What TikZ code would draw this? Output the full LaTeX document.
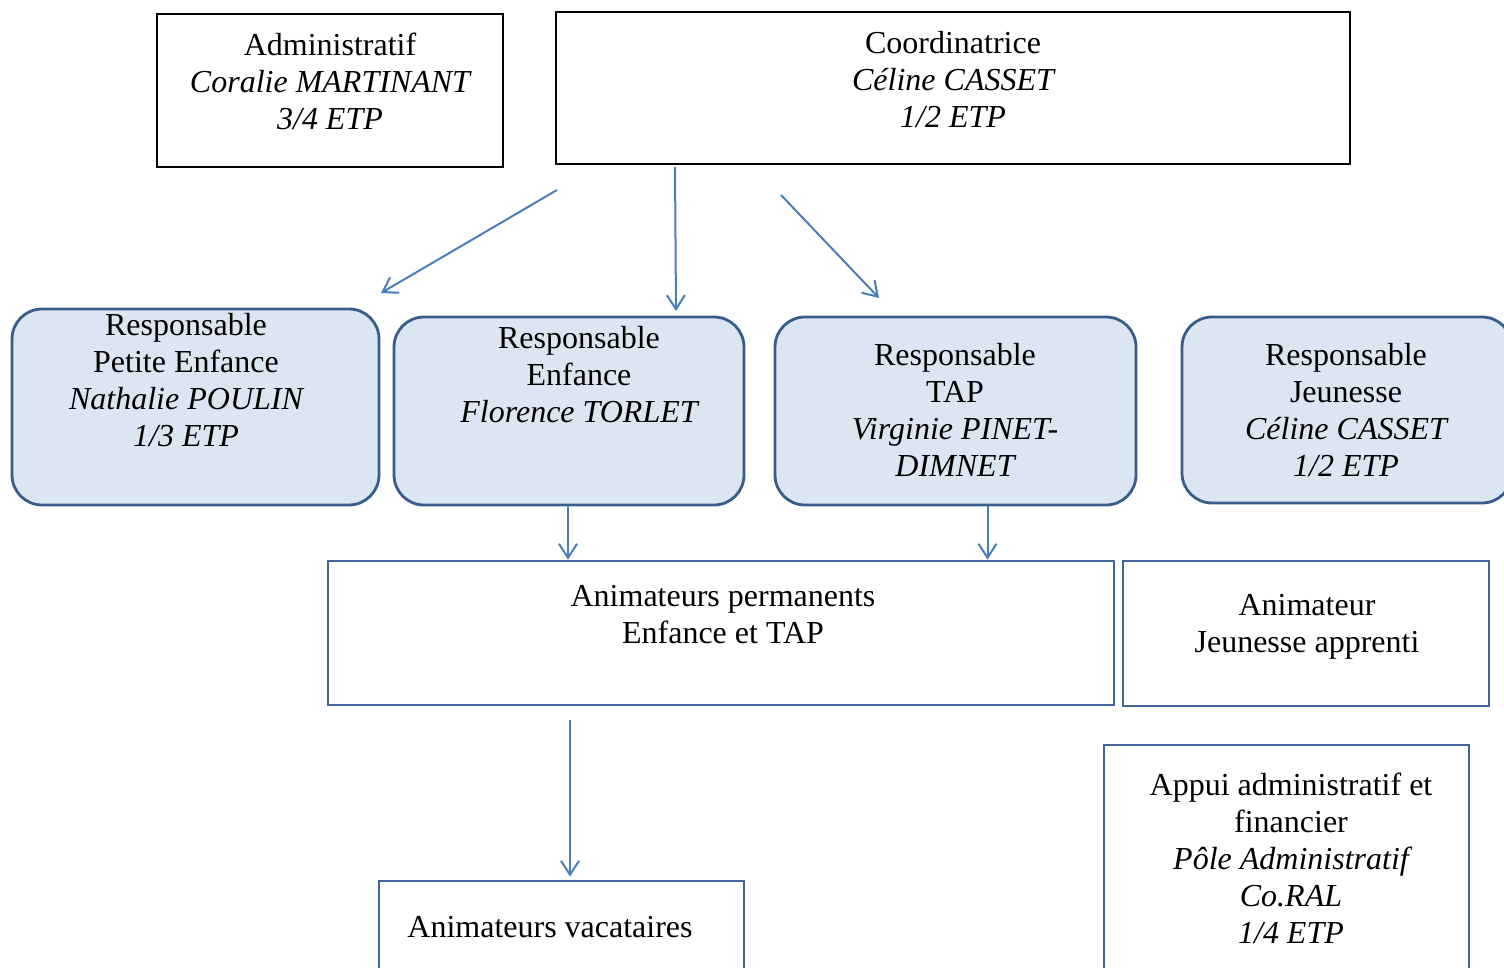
\documentclass[tikz,border=0pt]{standalone}
\usepackage{fontspec}
\setmainfont{Liberation Serif}
\usepackage{xcolor}
\usetikzlibrary{arrows.meta}

\definecolor{bleuFond}{RGB}{220,230,242}
\definecolor{bleuBord}{RGB}{56,93,138}
\definecolor{bleuCadre}{RGB}{65,100,155}
\definecolor{bleuFleche}{RGB}{74,126,187}

\tikzset{
  cadrenoir/.style={draw=black, line width=1.2pt, inner sep=0pt},
  cadrerond/.style={draw=bleuBord, fill=bleuFond, line width=1.4pt, rounded corners=15pt, inner sep=0pt},
  cadrebleu/.style={draw=bleuCadre, line width=1.4pt, inner sep=0pt},
  texte/.style={font=\fontsize{16}{18.5}\selectfont, align=center, inner sep=0pt, anchor=north},
  fleche/.style={draw=bleuFleche, line width=1pt, -{Straight Barb[length=7pt,width=9pt]}}
}

\begin{document}
\begin{tikzpicture}[x=0.5pt,y=-0.5pt]
        \useasboundingbox (0,0) rectangle (1504,968);
        \clip (0,0) rectangle (1504,968);

        %Shape: Rectangle [id:administratif]
        \node [cadrenoir, minimum width=173pt, minimum height=76.5pt] (adm) at (330,90.5) {};
        %Shape: Rectangle [id:coordinatrice]
        \node [cadrenoir, minimum width=397pt, minimum height=76pt] (coord) at (953,88) {};

        %Shape: Rounded Rectangle [id:responsables]
        \node [cadrerond, minimum width=183.5pt, minimum height=98pt] (pe) at (195.5,407) {};
        \node [cadrerond, minimum width=175pt, minimum height=94pt] (enf) at (569,411) {};
        \node [cadrerond, minimum width=180.5pt, minimum height=94pt] (tap) at (955.5,411) {};
        \node [cadrerond, minimum width=165pt, minimum height=93pt] (jeu) at (1347,410) {};

        %Shape: Rectangle [id:animateurs]
        \node [cadrebleu, minimum width=393pt, minimum height=72pt] (perm) at (721,633) {};
        \node [cadrebleu, minimum width=183pt, minimum height=72.5pt] (appr) at (1306,633.5) {};
        \node [cadrebleu, minimum width=182.5pt, minimum height=117.5pt] (appui) at (1286.5,862.5) {};
        \node [cadrebleu, minimum width=182.5pt, minimum height=54.5pt] (vac) at (561.5,935.5) {};

        %Straight Lines [id:fleches]
        \coordinate (f1a) at (557,190);
        \coordinate (f1b) at (381,293);
        \coordinate (f2a) at (675,167);
        \coordinate (f2b) at (676,311);
        \coordinate (f3a) at (781,195);
        \coordinate (f3b) at (879,298);
        \coordinate (f6a) at (570,720);
        \draw [fleche] (f1a) -- (f1b);
        \draw [fleche] (f2a) -- (f2b);
        \draw [fleche] (f3a) -- (f3b);
        \draw [fleche] ([xshift=-0.5pt]enf.south) -- ([xshift=-0.5pt]enf.south |- perm.north);
        \draw [fleche] ([xshift=16pt]tap.south) -- ([xshift=16pt]tap.south |- perm.north);
        \draw [fleche, shorten >=1.5pt] (f6a) -- (f6a |- vac.north);

        % Text Node
        \node [texte] (tadm) at (330,33) {Administratif\\\itshape Coralie MARTINANT\\\itshape 3/4 ETP};
        % Text Node
        \node [texte] (tcoord) at (953,31) {Coordinatrice\\\itshape Céline CASSET\\\itshape 1/2 ETP};
        % Text Node
        \node [texte] (tpe) at (186,313) {Responsable\\Petite Enfance\\\itshape Nathalie POULIN\\\itshape 1/3 ETP};
        % Text Node
        \node [texte] (tenf) at (579,326) {Responsable\\Enfance\\\itshape Florence TORLET};
        % Text Node
        \node [texte] (ttap) at (955,343) {Responsable\\TAP\\\itshape Virginie PINET-\\\itshape DIMNET};
        % Text Node
        \node [texte] (tjeu) at (1346,343) {Responsable\\Jeunesse\\\itshape Céline CASSET\\\itshape 1/2 ETP};
        % Text Node
        \node [texte] (tperm) at (723,585) {Animateurs permanents\\Enfance et TAP};
        % Text Node
        \node [texte] (tappr) at (1307,594) {Animateur\\Jeunesse apprenti};
        % Text Node
        \node [texte] (tappui) at (1291,773) {Appui administratif et\\financier\\\itshape Pôle Administratif\\\itshape Co.RAL\\\itshape 1/4 ETP};
        % Text Node
        \node [texte, anchor=north west] (tvac) at (407,916) {Animateurs vacataires};

\end{tikzpicture}
\end{document}
